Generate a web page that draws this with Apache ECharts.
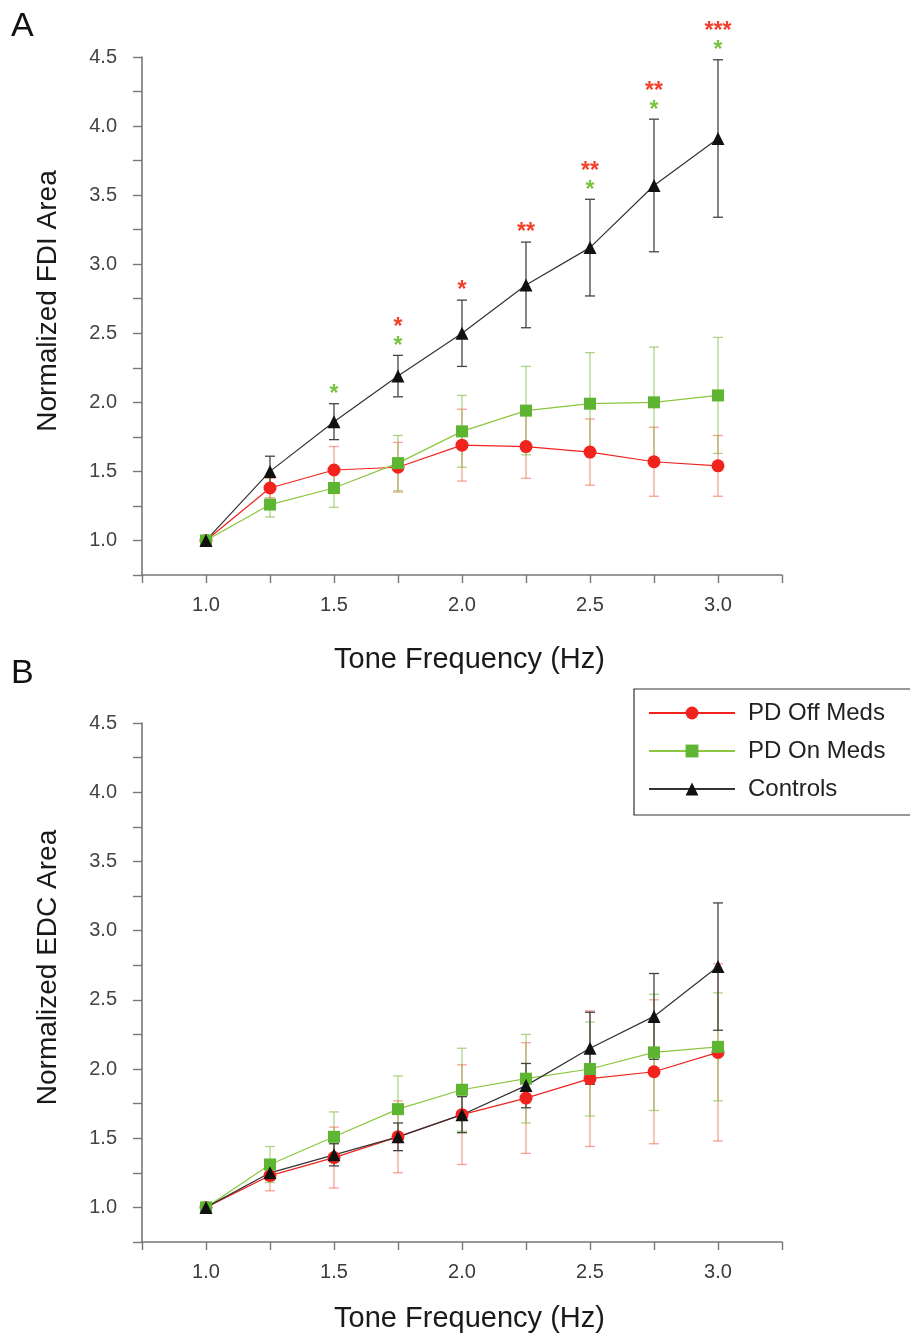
<!DOCTYPE html>
<html><head><meta charset="utf-8">
<script src="https://cdn.jsdelivr.net/npm/echarts@6/dist/echarts.min.js"></script>
<style>html,body{margin:0;padding:0;background:#fff}#c{width:910px;height:1334px}</style>
</head><body><div id="c"></div>
<script>
// ---------- data ----------
const freqs = [1.0, 1.25, 1.5, 1.75, 2.0, 2.25, 2.5, 2.75, 3.0];
const xTickLabels = [1.0, 1.5, 2.0, 2.5, 3.0];
const yTickLabels = [1.0, 1.5, 2.0, 2.5, 3.0, 3.5, 4.0, 4.5];
const seriesNames = ['PD Off Meds', 'PD On Meds', 'Controls'];

// Panel A: Normalized FDI Area (mean, error)
const fdiOff    = [1.00, 1.38, 1.51, 1.53, 1.69, 1.68, 1.64, 1.57, 1.54];
const fdiOffErr = [0.00, 0.07, 0.17, 0.18, 0.26, 0.23, 0.24, 0.25, 0.22];
const fdiOn     = [1.00, 1.26, 1.38, 1.56, 1.79, 1.94, 1.99, 2.00, 2.05];
const fdiOnErr  = [0.00, 0.09, 0.14, 0.20, 0.26, 0.32, 0.37, 0.40, 0.42];
const fdiCtl    = [1.00, 1.50, 1.86, 2.19, 2.50, 2.85, 3.12, 3.57, 3.91];
const fdiCtlErr = [0.00, 0.11, 0.13, 0.15, 0.24, 0.31, 0.35, 0.48, 0.57];
// significance markers (vs Controls)
const sigOff = ['', '', '', '*', '*', '**', '**', '**', '***'];
const sigOn  = ['', '', '*', '*', '', '', '*', '*', '*'];

// Panel B: Normalized EDC Area (mean, error)
const edcOff    = [1.00, 1.23, 1.36, 1.51, 1.67, 1.79, 1.93, 1.98, 2.12];
const edcOffErr = [0.00, 0.11, 0.22, 0.26, 0.36, 0.40, 0.49, 0.52, 0.64];
const edcOn     = [1.00, 1.31, 1.51, 1.71, 1.85, 1.93, 2.00, 2.12, 2.16];
const edcOnErr  = [0.00, 0.13, 0.18, 0.24, 0.30, 0.32, 0.34, 0.42, 0.39];
const edcCtl    = [1.00, 1.25, 1.38, 1.51, 1.67, 1.88, 2.15, 2.38, 2.74];
const edcCtlErr = [0.00, 0.05, 0.08, 0.10, 0.13, 0.16, 0.26, 0.31, 0.46];

// ---------- styling ----------
const FONT = 'Liberation Sans, Arial, sans-serif';
const RED = '#f2231d', GREEN = '#5db531', GREEN_LINE = '#8cc63f', BLACK = '#111111';
const RED_ERR = 'rgba(240,90,60,0.55)', GREEN_ERR = 'rgba(120,185,60,0.6)', BLACK_ERR = '#444';

function pairs(vals) { return freqs.map((f, i) => [f, vals[i]]); }

function lineSeries(name, vals, color, lineColor, symbol, size, g) {
  return {
    type: 'line', name, xAxisIndex: g, yAxisIndex: g, data: pairs(vals),
    symbol, symbolSize: size, showSymbol: true, z: 5,
    lineStyle: { color: lineColor, width: 1.2 },
    itemStyle: { color },
    emphasis: { disabled: true }
  };
}

function errSeries(name, means, errs, color, g) {
  return {
    type: 'custom', name, xAxisIndex: g, yAxisIndex: g, z: 3, silent: true,
    data: freqs.map((f, i) => [f, means[i] - errs[i], means[i] + errs[i]]),
    encode: { x: 0, y: [1, 2] },
    renderItem(params, api) {
      const x = api.value(0);
      const lo = api.coord([x, api.value(1)]);
      const hi = api.coord([x, api.value(2)]);
      if (Math.abs(hi[1] - lo[1]) < 1) return null;
      const w = 5;
      const st = { stroke: color, lineWidth: 1.3 };
      return { type: 'group', children: [
        { type: 'line', shape: { x1: lo[0], y1: lo[1], x2: hi[0], y2: hi[1] }, style: st },
        { type: 'line', shape: { x1: lo[0] - w, y1: lo[1], x2: lo[0] + w, y2: lo[1] }, style: st },
        { type: 'line', shape: { x1: hi[0] - w, y1: hi[1], x2: hi[0] + w, y2: hi[1] }, style: st }
      ]};
    }
  };
}

function sigSeries(g) {
  return {
    type: 'custom', xAxisIndex: g, yAxisIndex: g, z: 6, silent: true,
    data: freqs.map((f, i) => [f, fdiCtl[i] + fdiCtlErr[i], i]),
    renderItem(params, api) {
      const i = api.value(2);
      const p = api.coord([api.value(0), api.value(1)]);
      const kids = [];
      let y = p[1] - 9;
      if (sigOn[i]) {
        kids.push({ type: 'text', x: p[0], y: y, style: { text: sigOn[i], fill: '#7cc242', font: 'bold 23px ' + FONT, align: 'center', verticalAlign: 'middle' } });
        y -= 19;
      }
      if (sigOff[i]) {
        kids.push({ type: 'text', x: p[0], y: y, style: { text: sigOff[i], fill: '#f2402c', font: 'bold 23px ' + FONT, align: 'center', verticalAlign: 'middle' } });
      }
      return { type: 'group', children: kids };
    }
  };
}

function xAxis(g, gap) {
  return {
    type: 'value', gridIndex: g, min: 0.75, max: 3.25, interval: 0.25,
    name: 'Tone Frequency (Hz)', nameLocation: 'middle', nameGap: gap,
    nameTextStyle: { fontFamily: FONT, fontSize: 29, color: '#1a1a1a', padding: [0, 0, 0, 15] },
    axisLine: { show: true, onZero: false, lineStyle: { color: '#777', width: 1.6 } },
    axisTick: { show: true, length: 8, lineStyle: { color: '#777', width: 1.4 } },
    axisLabel: {
      margin: 20, fontFamily: FONT, fontSize: 20, color: '#3a3a3a',
      formatter: v => xTickLabels.some(t => Math.abs(t - v) < 1e-6) ? v.toFixed(1) : ''
    },
    splitLine: { show: false }
  };
}

function yAxis(g, name) {
  return {
    type: 'value', gridIndex: g, min: 0.75, max: 4.5, interval: 0.25,
    name, nameLocation: 'middle', nameGap: 80,
    nameTextStyle: { fontFamily: FONT, fontSize: 28, color: '#1a1a1a', padding: [0, 0, 0, 30] },
    axisLine: { show: true, onZero: false, lineStyle: { color: '#777', width: 1.6 } },
    axisTick: { show: true, length: 9, lineStyle: { color: '#777', width: 1.4 } },
    axisLabel: {
      margin: 25, fontFamily: FONT, fontSize: 20, color: '#444',
      formatter: v => yTickLabels.some(t => Math.abs(t - v) < 1e-6) ? v.toFixed(1) : ''
    },
    splitLine: { show: false }
  };
}

const chart = echarts.init(document.getElementById('c'), null, { renderer: 'canvas' });
chart.setOption({
  backgroundColor: '#fff',
  animation: false,
  grid: [
    { left: 142, right: 128, top: 57, height: 518 },
    { left: 142, right: 128, top: 723, height: 519 }
  ],
  xAxis: [xAxis(0, 70), xAxis(1, 62)],
  yAxis: [yAxis(0, 'Normalized FDI Area'), yAxis(1, 'Normalized EDC Area')],
  legend: {
    data: seriesNames, orient: 'vertical', left: 634, top: 689,
    itemWidth: 86, itemHeight: 16, itemGap: 14,
    padding: [12, 80, 14, 14],
    borderColor: '#333', borderWidth: 1.2, backgroundColor: '#fff',
    textStyle: { fontFamily: FONT, fontSize: 24, color: '#222', padding: [0, 0, 0, 8] },
    selectedMode: false
  },
  graphic: [
    { type: 'text', left: 11, top: 10, style: { text: 'A', font: '34px ' + FONT, fill: '#111' } },
    { type: 'text', left: 11, top: 657, style: { text: 'B', font: '34px ' + FONT, fill: '#111' } }
  ],
  series: [
    lineSeries(seriesNames[0], fdiOff, RED, RED, 'circle', 13, 0),
    lineSeries(seriesNames[1], fdiOn, GREEN, GREEN_LINE, 'rect', 12, 0),
    lineSeries(seriesNames[2], fdiCtl, BLACK, '#333', 'triangle', 13, 0),
    lineSeries(seriesNames[0], edcOff, RED, RED, 'circle', 13, 1),
    lineSeries(seriesNames[1], edcOn, GREEN, GREEN_LINE, 'rect', 12, 1),
    lineSeries(seriesNames[2], edcCtl, BLACK, '#333', 'triangle', 13, 1),
    errSeries(seriesNames[0], fdiOff, fdiOffErr, RED_ERR, 0),
    errSeries(seriesNames[1], fdiOn, fdiOnErr, GREEN_ERR, 0),
    errSeries(seriesNames[2], fdiCtl, fdiCtlErr, BLACK_ERR, 0),
    errSeries(seriesNames[0], edcOff, edcOffErr, RED_ERR, 1),
    errSeries(seriesNames[1], edcOn, edcOnErr, GREEN_ERR, 1),
    errSeries(seriesNames[2], edcCtl, edcCtlErr, BLACK_ERR, 1),
    sigSeries(0)
  ]
});
</script>
</body></html>
